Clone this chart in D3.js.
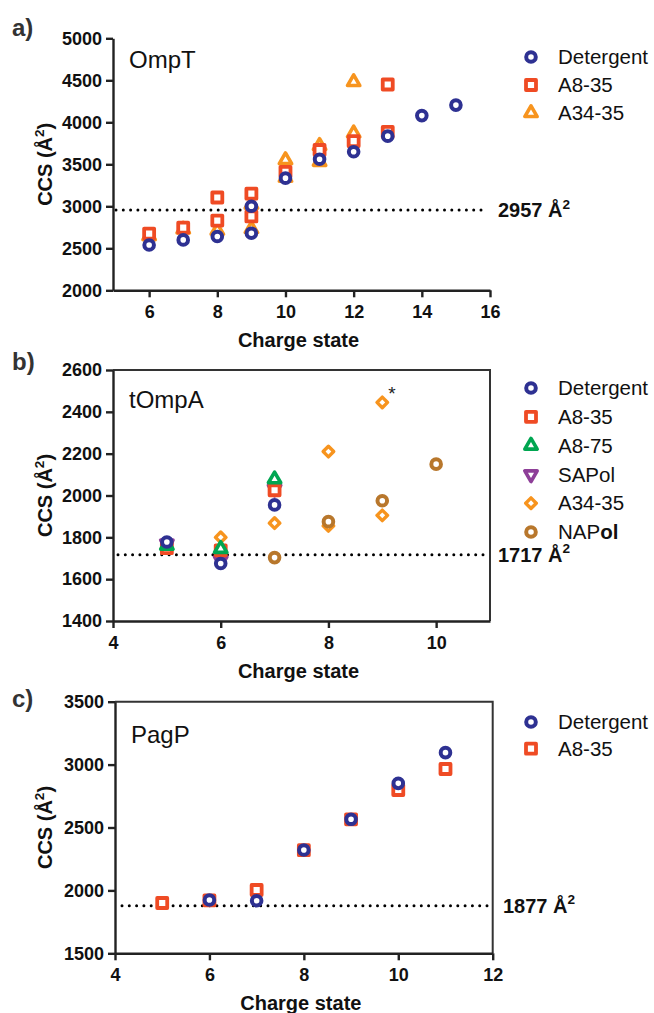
<!DOCTYPE html>
<html>
<head>
<meta charset="utf-8">
<script src="https://cdn.jsdelivr.net/npm/d3@7"></script>
<style>
  body { margin: 0; background: #fff; }
  svg { display: block; font-family: Arial, "Liberation Sans", Helvetica, sans-serif; }
</style>
</head>
<body>
<script>
// ---- data: [charge state, CCS] ----
var omptDetergent = [[6,2540],[7,2600],[8,2640],[9,2680],[9,3000],[10,3335],[11,3560],[12,3650],[13,3835],[14,4080],[15,4205]];
var omptA835 = [[6,2675],[7,2745],[8,3105],[8,2830],[9,3150],[9,2880],[10,3410],[11,3670],[12,3775],[13,3885],[13,4450]];
var omptA3435 = [[6,2645],[7,2725],[8,2710],[9,2730],[9,3020],[10,3550],[10,3340],[11,3720],[11,3530],[12,3870],[12,4480]];

var tompaDetergent = [[5,1778],[6,1675],[7,1955]];
var tompaA835 = [[5,1748],[6,1738],[7,2025]];
var tompaA875 = [[5,1760],[6,1745],[7,2078]];
var tompaSAPol = [[5,1770],[6,1690],[7,2032]];
var tompaA3435 = [[6,1800],[7,1868],[7,2060],[8,2210],[8,1855],[9,2445],[9,1905]];
var tompaNAPol = [[7,1703],[8,1875],[9,1975],[10,2150]];

var pagpDetergent = [[6,1924],[7,1918],[8,2321],[9,2565],[10,2851],[11,3095]];
var pagpA835 = [[5,1900],[6,1920],[7,2003],[8,2320],[9,2565],[10,2798],[11,2965]];

var omptTicksX = [6,8,10,12,14,16], omptTicksY = [2000,2500,3000,3500,4000,4500,5000];
var tompaTicksX = [4,6,8,10], tompaTicksY = [1400,1600,1800,2000,2200,2400,2600];
var pagpTicksX = [4,6,8,10,12], pagpTicksY = [1500,2000,2500,3000,3500];

var refLines = {ompt: 2957, tompa: 1717, pagp: 1877};

var col = {
  blue: "#2e3192", red: "#ef4b24", orange: "#f7941e",
  green: "#00a651", purple: "#8e3f98", brown: "#b8772c"
};

var svg = d3.select("body").append("svg").attr("width", 654).attr("height", 1013);

// marker shapes
function marker(g, type, color, x, y) {
  if (type == "circle") {
    g.append("circle").attr("cx", x).attr("cy", y).attr("r", 4.8)
      .attr("fill", "#fff").attr("stroke", color).attr("stroke-width", 4);
    return;
  }
  var p, rot = 0, sw = 3.8;
  if (type == "square") p = d3.symbol(d3.symbolSquare, 100)();
  if (type == "tri") { p = d3.symbol(d3.symbolTriangle, 66)(); sw = 3.6; }
  if (type == "down") { p = d3.symbol(d3.symbolTriangle, 66)(); rot = 180; sw = 3.6; }
  if (type == "diamond") { p = d3.symbol(d3.symbolSquare, 56)(); rot = 45; sw = 3.4; }
  g.append("path").attr("d", p)
    .attr("transform", "translate(" + x + "," + y + ") rotate(" + rot + ")")
    .attr("fill", "#fff").attr("stroke", color).attr("stroke-width", sw)
    .attr("stroke-linejoin", "round");
}

function supText(sel, before, after, size) {
  sel.append("tspan").text(before);
  sel.append("tspan").attr("font-size", size * 0.68).attr("dy", -size * 0.42).text("2");
  if (after) sel.append("tspan").attr("dy", size * 0.42).text(after);
}

function panel(o) {
  var x = d3.scaleLinear().domain(o.xDomain).range(o.xRange);
  var y = d3.scaleLinear().domain(o.yDomain).range(o.yRange);
  var g = svg.append("g");

  if (o.box) {
    g.append("path")
      .attr("d", "M" + o.xRange[0] + "," + o.yRange[1] + "H" + o.xRange[1] + "V" + o.yRange[0])
      .attr("fill", "none").attr("stroke", "#333").attr("stroke-width", 2);
  }

  // reference line
  g.append("line")
    .attr("x1", o.refStart).attr("x2", o.xRange[1] - 2)
    .attr("y1", y(o.ref)).attr("y2", y(o.ref))
    .attr("stroke", "#000").attr("stroke-width", 3)
    .attr("stroke-linecap", "round").attr("stroke-dasharray", "0,7.3");

  var lab = g.append("text").attr("x", o.refLabelX).attr("y", y(o.ref) + 7)
    .attr("font-size", 20).attr("font-weight", "bold").attr("fill", "#111");
  supText(lab, o.ref + " Å", null, 20);

  var fmt = d3.format("d");
  var xa = g.append("g").attr("transform", "translate(0," + o.yRange[0] + ")")
    .call(d3.axisBottom(x).tickValues(o.xTicks).tickFormat(fmt).tickSize(7).tickSizeOuter(0).tickPadding(8));
  var ya = g.append("g").attr("transform", "translate(" + o.xRange[0] + ",0)")
    .call(d3.axisLeft(y).tickValues(o.yTicks).tickFormat(fmt).tickSize(7).tickSizeOuter(0).tickPadding(4));
  [xa, ya].forEach(function(a) {
    a.select(".domain").attr("stroke", "#222").attr("stroke-width", 2.4);
    a.selectAll(".tick line").attr("stroke", "#222").attr("stroke-width", 2.4);
    a.selectAll(".tick text").attr("font-size", 18).attr("font-weight", "bold")
      .attr("fill", "#111").attr("font-family", "Arial, 'Liberation Sans', sans-serif");
  });

  // axis titles
  var midY = (o.yRange[0] + o.yRange[1]) / 2;
  var yt = g.append("text").attr("transform", "translate(52," + midY + ") rotate(-90)")
    .attr("text-anchor", "middle").attr("font-size", 20).attr("font-weight", "bold").attr("fill", "#111");
  supText(yt, "CCS (Å", ")", 20);
  g.append("text").attr("x", (o.xRange[0] + o.xRange[1]) / 2 - 3).attr("y", o.yRange[0] + 57)
    .attr("text-anchor", "middle").attr("font-size", 20).attr("font-weight", "bold")
    .attr("fill", "#111").text("Charge state");

  g.append("text").attr("x", 12).attr("y", o.letterY).attr("font-size", 24)
    .attr("font-weight", "bold").attr("fill", "#333").text(o.letter);
  g.append("text").attr("x", o.xRange[0] + 16).attr("y", o.titleY).attr("font-size", 24)
    .attr("fill", "#111").text(o.title);

  // points
  o.series.forEach(function(s) {
    s.data.forEach(function(d) { marker(g, s.shape, s.color, x(d[0]), y(d[1])); });
  });

  // legend (drawn in legend order)
  o.legend.forEach(function(s, i) {
    var ly = o.legendY + i * o.legendStep;
    marker(g, s.shape, s.color, 531, ly);
    var t = g.append("text").attr("x", 558).attr("y", ly).attr("dy", "0.35em")
      .attr("font-size", 20.5).attr("fill", "#111");
    if (s.name == "NAPol") {
      t.append("tspan").text("NAP");
      t.append("tspan").attr("font-weight", "bold").text("ol");
    } else t.text(s.name);
  });
  return {x: x, y: y, g: g};
}

var sDet = function(d) { return {name: "Detergent", shape: "circle", color: col.blue, data: d}; };
var sA835 = function(d) { return {name: "A8-35", shape: "square", color: col.red, data: d}; };

var aDet = sDet(omptDetergent), aA835 = sA835(omptA835);
var aA3435 = {name: "A34-35", shape: "tri", color: col.orange, data: omptA3435};
panel({
  letter: "a)", letterY: 36, title: "OmpT", titleY: 68,
  xDomain: [4.94, 16], xRange: [113, 490], yDomain: [2000, 5000], yRange: [290.3, 38.3],
  xTicks: omptTicksX, yTicks: omptTicksY, box: false,
  ref: refLines.ompt, refStart: 116, refLabelX: 498,
  series: [aA3435, aA835, aDet], legend: [aDet, aA835, aA3435],
  legendY: 57, legendStep: 28
});

var bDet = sDet(tompaDetergent), bA835 = sA835(tompaA835);
var bA875 = {name: "A8-75", shape: "tri", color: col.green, data: tompaA875};
var bSAPol = {name: "SAPol", shape: "down", color: col.purple, data: tompaSAPol};
var bA3435 = {name: "A34-35", shape: "diamond", color: col.orange, data: tompaA3435};
var bNAPol = {name: "NAPol", shape: "circle", color: col.brown, data: tompaNAPol};
var pb = panel({
  letter: "b)", letterY: 370, title: "tOmpA", titleY: 408,
  xDomain: [4, 11], xRange: [113, 490], yDomain: [1400, 2600], yRange: [621, 370],
  xTicks: tompaTicksX, yTicks: tompaTicksY, box: true,
  ref: refLines.tompa, refStart: 118, refLabelX: 498,
  series: [bA3435, bNAPol, bSAPol, bA835, bA875, bDet],
  legend: [bDet, bA835, bA875, bSAPol, bA3435, bNAPol],
  legendY: 388, legendStep: 28.8
});
// asterisk next to the outlying A34-35 point
pb.g.append("text").attr("x", pb.x(9) + 6).attr("y", pb.y(2445) - 2)
  .attr("font-size", 19).attr("fill", "#222").text("*");

var cDet = sDet(pagpDetergent), cA835 = sA835(pagpA835);
panel({
  letter: "c)", letterY: 707, title: "PagP", titleY: 743,
  xDomain: [4, 12], xRange: [115, 492.7], yDomain: [1500, 3500], yRange: [953.3, 701.7],
  xTicks: pagpTicksX, yTicks: pagpTicksY, box: true,
  ref: refLines.pagp, refStart: 122, refLabelX: 503,
  series: [cA835, cDet], legend: [cDet, cA835],
  legendY: 722, legendStep: 26.7
});
</script>
</body>
</html>
